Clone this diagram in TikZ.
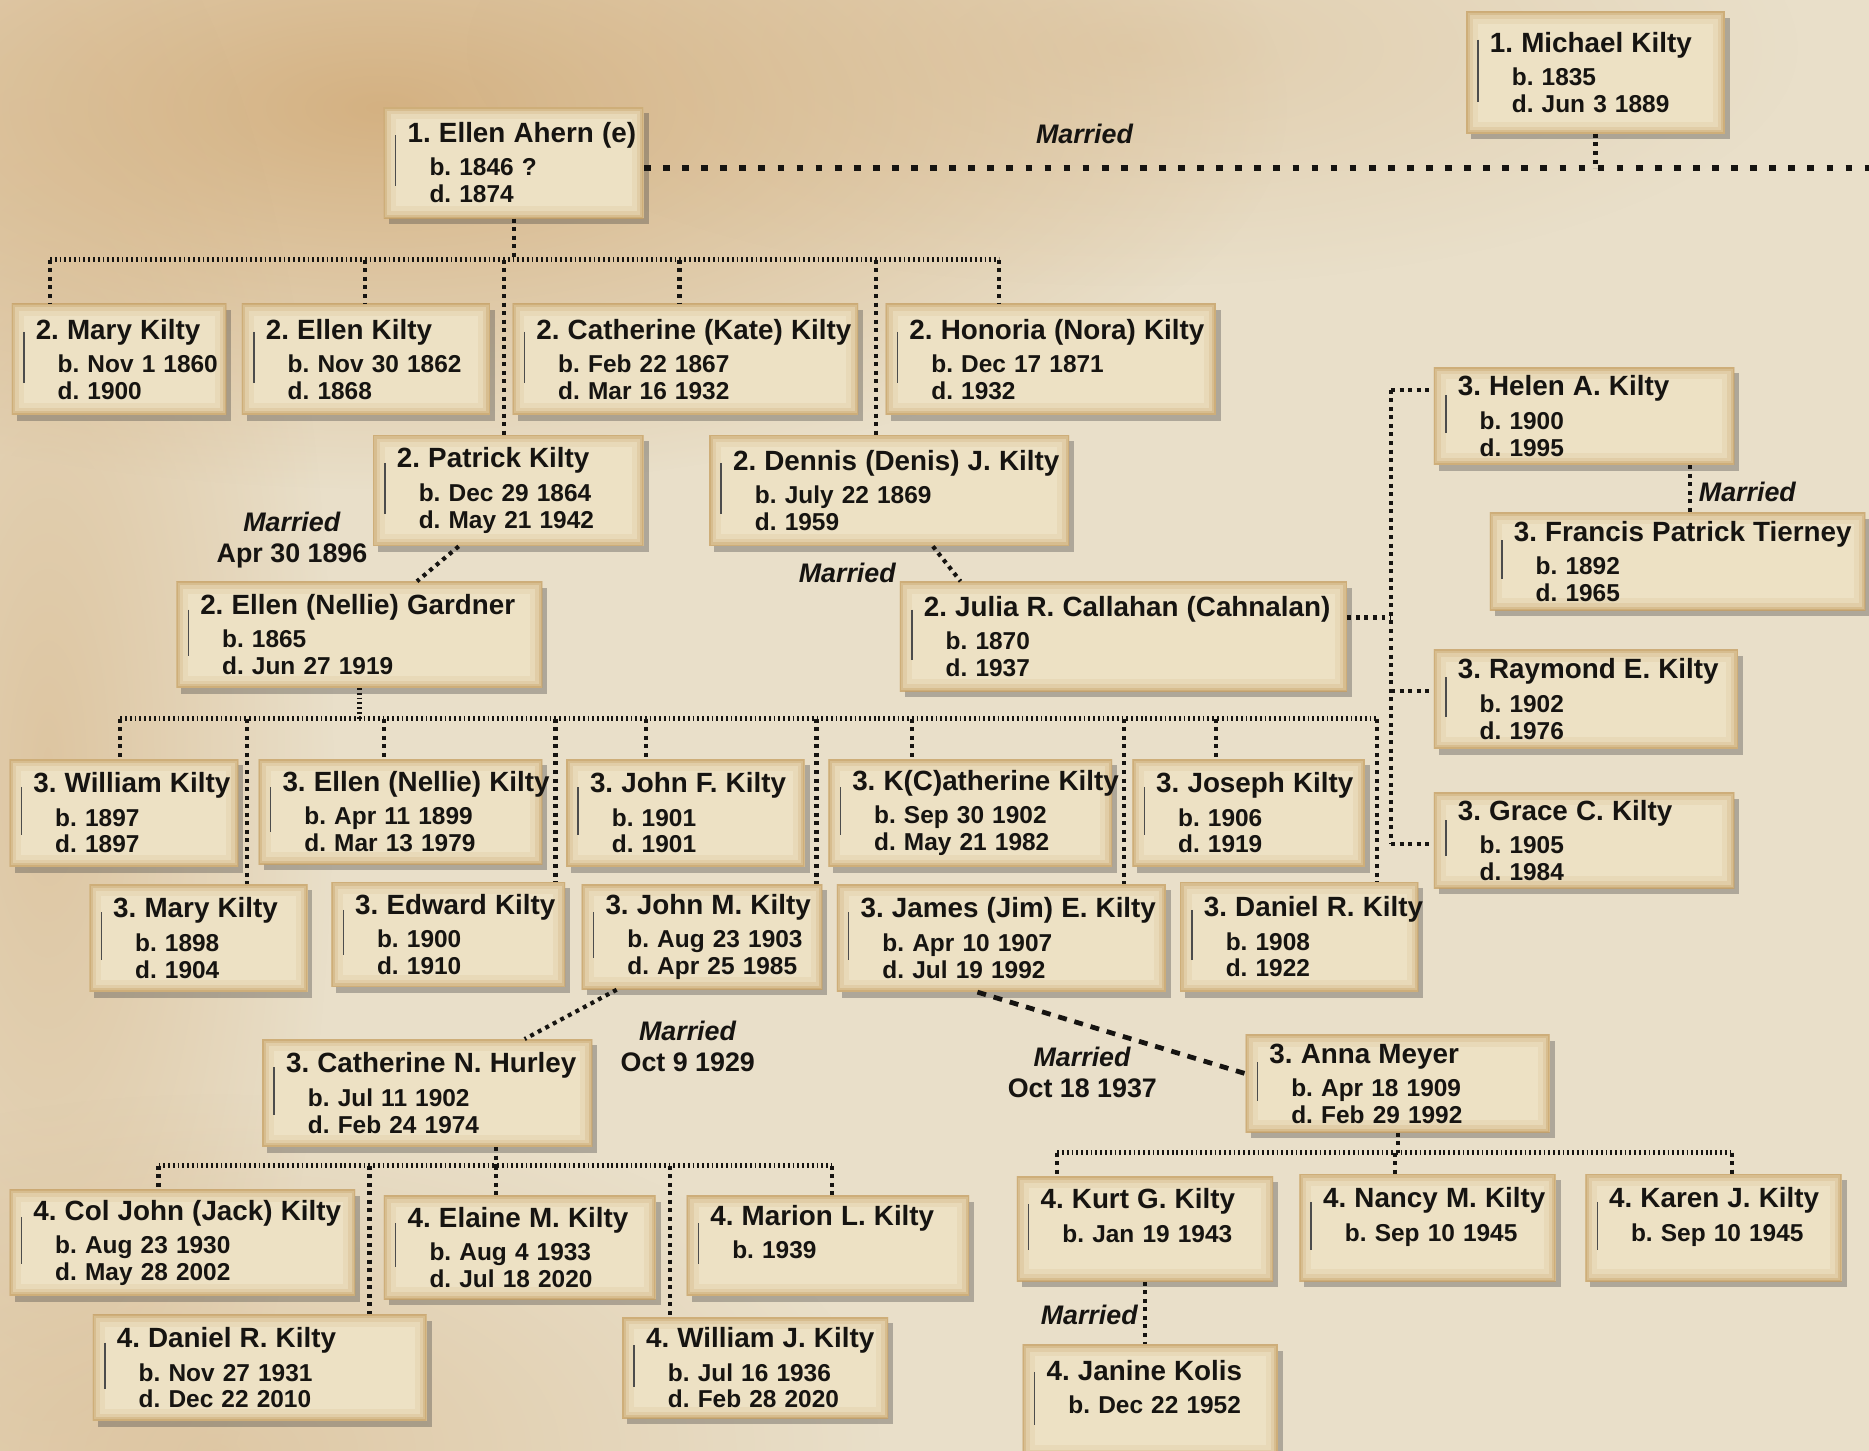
\documentclass[tikz,border=0pt]{standalone}
\usepackage{fontspec}
\setmainfont{Liberation Sans}
\usepackage{tikz}
\usetikzlibrary{shadows,fadings,calc}
\definecolor{paper}{RGB}{233,223,201}
\definecolor{paperdark}{RGB}{210,172,122}
\definecolor{cardin}{RGB}{237,225,196}
\definecolor{cardrim}{RGB}{198,160,100}
\definecolor{ink}{RGB}{22,20,17}
\tikzfading[name=blob, inner color=transparent!0, outer color=transparent!100]
\newcommand{\cardname}{\fontsize{14}{13.5}\selectfont}
\tikzstyle{card} = [fill=cardin, align=left, text=ink,
  inner xsep=0pt, inner ysep=0pt, font=\fontsize{12.3}{13.5}\selectfont\bfseries,
  drop shadow={shadow xshift=2.5pt, shadow yshift=-3pt, opacity=0.35, fill=black!75},
  path picture={
    \draw[cardrim, line width=12pt, opacity=0.12] (path picture bounding box.south west)
      rectangle (path picture bounding box.north east);
    \draw[cardrim, line width=7pt, opacity=0.2] (path picture bounding box.south west)
      rectangle (path picture bounding box.north east);
    \draw[cardrim, line width=3.5pt, opacity=0.35] (path picture bounding box.south west)
      rectangle (path picture bounding box.north east);
    \draw[cardrim, line width=1.4pt, opacity=0.5] (path picture bounding box.south west)
      rectangle (path picture bounding box.north east);
    \draw[line width=0.7pt, black!70]
      ([shift={(6pt,-14pt)}]path picture bounding box.north west) --
      ([shift={(6pt,16pt)}]path picture bounding box.south west);}]
\tikzstyle{wed} = [align=center, text=ink, inner sep=0pt,
  font=\fontsize{13.5}{15.6}\selectfont\bfseries]
% one card: name, x1, y1, x2, y2, person, born, died
\newcommand{\famcard}[8]{%
  \pgfmathsetmacro\cardw{(#4-#2)*0.6}%
  \pgfmathsetmacro\cardh{(#5-#3)*0.6}%
  \pgfmathsetmacro\cardt{(#4-#2)*0.6-24}%
  \node[card, minimum width=\cardw pt, minimum height=\cardh pt, text width=\cardt pt]
    (#1) at ({(#2+#4)/2},{(#3+#5)/2})
    {\mbox{\cardname #6}\\[3.3pt]\mbox{\hspace*{11pt}#7}\\\mbox{\hspace*{11pt}#8}};}

\begin{document}
\frenchspacing
\begin{tikzpicture}[x=0.6pt, y=-0.6pt,
	famline/.style={draw=ink, line width=2.4pt, dash pattern=on 0.9pt off 1.5pt},
	drop/.style={draw=ink, line width=2.1pt, dash pattern=on 2pt off 2.3pt},
	marline/.style={draw=ink, line width=2.6pt, dash pattern=on 3.4pt off 6.2pt},
	longdash/.style={draw=ink, line width=2.4pt, dash pattern=on 4.5pt off 4pt}]
    \useasboundingbox (0,0) rectangle (1568,1217);
    %% Paper
    \fill[paper] (0,0) rectangle (1568,1217);
    \fill[paperdark, opacity=0.9, path fading=blob] (320,90) ellipse (760 and 320);
    \fill[paperdark, opacity=0.5, path fading=blob] (40,640) ellipse (240 and 760);
    \fill[paperdark, opacity=0.45, path fading=blob] (180,1217) ellipse (560 and 300);
    \fill[paperdark, opacity=0.35, path fading=blob] (950,40) ellipse (560 and 200);

    %% Generation 1
    \famcard{ea}{322}{90}{540}{183}{1. Ellen Ahern (e)}{b. 1846 ?}{d. 1874}
    \famcard{mk}{1230}{10}{1447}{112}{1. Michael Kilty}{b. 1835}{d. Jun 3 1889}
    %% Generation 2
    \famcard{mary2}{10}{255}{190}{348}{2. Mary Kilty}{b. Nov 1 1860}{d. 1900}
    \famcard{ellen2}{203}{255}{411}{348}{2. Ellen Kilty}{b. Nov 30 1862}{d. 1868}
    \famcard{kate}{430}{255}{720}{348}{2. Catherine (Kate) Kilty}{b. Feb 22 1867}{d. Mar 16 1932}
    \famcard{nora}{743}{255}{1020}{348}{2. Honoria (Nora) Kilty}{b. Dec 17 1871}{d. 1932}
    \famcard{patrick}{313}{365}{540}{458}{2. Patrick Kilty}{b. Dec 29 1864}{d. May 21 1942}
    \famcard{dennis}{595}{365}{897}{458}{2. Dennis (Denis) J. Kilty}{b. July 22 1869}{d. 1959}
    \famcard{gardner}{148}{488}{455}{577}{2. Ellen (Nellie) Gardner}{b. 1865}{d. Jun 27 1919}
    \famcard{julia}{755}{488}{1130}{580}{2. Julia R. Callahan (Cahnalan)}{b. 1870}{d. 1937}
    %% Generation 3
    \famcard{helen}{1203}{308}{1455}{390}{3. Helen A. Kilty}{b. 1900}{d. 1995}
    \famcard{tierney}{1250}{430}{1565}{512}{3. Francis Patrick Tierney}{b. 1892}{d. 1965}
    \famcard{raymond}{1203}{545}{1458}{628}{3. Raymond E. Kilty}{b. 1902}{d. 1976}
    \famcard{grace}{1203}{665}{1455}{745}{3. Grace C. Kilty}{b. 1905}{d. 1984}
    \famcard{william}{8}{637}{200}{727}{3. William Kilty}{b. 1897}{d. 1897}
    \famcard{nellie}{217}{637}{455}{725}{3. Ellen (Nellie) Kilty}{b. Apr 11 1899}{d. Mar 13 1979}
    \famcard{johnf}{475}{637}{675}{727}{3. John F. Kilty}{b. 1901}{d. 1901}
    \famcard{kath}{695}{637}{933}{727}{3. K(C)atherine Kilty}{b. Sep 30 1902}{d. May 21 1982}
    \famcard{joseph}{950}{637}{1145}{727}{3. Joseph Kilty}{b. 1906}{d. 1919}
    \famcard{mary3}{75}{742}{258}{832}{3. Mary Kilty}{b. 1898}{d. 1904}
    \famcard{edward}{278}{740}{474}{828}{3. Edward Kilty}{b. 1900}{d. 1910}
    \famcard{johnm}{488}{742}{690}{830}{3. John M. Kilty}{b. Aug 23 1903}{d. Apr 25 1985}
    \famcard{james}{702}{742}{978}{832}{3. James (Jim) E. Kilty}{b. Apr 10 1907}{d. Jul 19 1992}
    \famcard{daniel3}{990}{740}{1190}{832}{3. Daniel R. Kilty}{b. 1908}{d. 1922}
    \famcard{hurley}{220}{872}{497}{962}{3. Catherine N. Hurley}{b. Jul 11 1902}{d. Feb 24 1974}
    \famcard{meyer}{1045}{868}{1300}{950}{3. Anna Meyer}{b. Apr 18 1909}{d. Feb 29 1992}
    %% Generation 4
    \famcard{jack}{8}{998}{298}{1087}{4. Col John (Jack) Kilty}{b. Aug 23 1930}{d. May 28 2002}
    \famcard{elaine}{322}{1003}{550}{1090}{4. Elaine M. Kilty}{b. Aug 4 1933}{d. Jul 18 2020}
    \famcard{marion}{576}{1003}{813}{1087}{4. Marion L. Kilty}{b. 1939}{}
    \famcard{daniel4}{78}{1103}{358}{1192}{4. Daniel R. Kilty}{b. Nov 27 1931}{d. Dec 22 2010}
    \famcard{williamj}{522}{1105}{745}{1190}{4. William J. Kilty}{b. Jul 16 1936}{d. Feb 28 2020}
    \famcard{kurt}{853}{987}{1068}{1075}{4. Kurt G. Kilty}{b. Jan 19 1943}{}
    \famcard{nancy}{1090}{985}{1305}{1075}{4. Nancy M. Kilty}{b. Sep 10 1945}{}
    \famcard{karen}{1330}{985}{1545}{1075}{4. Karen J. Kilty}{b. Sep 10 1945}{}
    \famcard{janine}{858}{1128}{1072}{1222}{4. Janine Kolis}{b. Dec 22 1952}{}

    %% Junctions
    \coordinate (mfree) at (1568,141);
    \coordinate (a1) at (42,218);   \coordinate (a2) at (306,218);  \coordinate (a3) at (423,218);
    \coordinate (a4) at (570,218);  \coordinate (a5) at (735,218);  \coordinate (a6) at (838,218);
    \coordinate (b1) at (101,603);  \coordinate (b2) at (207,603);  \coordinate (b3) at (322,603);
    \coordinate (b4) at (466,603);  \coordinate (b5) at (542,603);  \coordinate (b6) at (685,603);
    \coordinate (b7) at (765,603);  \coordinate (b8) at (943,603);  \coordinate (b9) at (1020,603);
    \coordinate (b10) at (1155,603);
    \coordinate (c1) at (133,978);  \coordinate (c2) at (310,978);  \coordinate (c3) at (416,978);
    \coordinate (c4) at (562,978);  \coordinate (c5) at (698,978);
    \coordinate (d1) at (887,967);  \coordinate (d2) at (1170,967); \coordinate (d3) at (1453,967);
    \coordinate (j0) at (1167,518); \coordinate (j1) at (1167,327); \coordinate (j2) at (1167,580);
    \coordinate (j3) at (1167,708); \coordinate (hm) at (1418,410);

    %% Marriages
    \path [marline] (mfree -| ea.east) -- (mfree);
    \path [drop] (mk.south) -- (mk.south |- mfree);
    \path [drop] ([xshift=-25pt]patrick.south) -- ([xshift=29pt]gardner.north);
    \path [drop] ([xshift=22pt]dennis.south) -- ([xshift=-82pt]julia.north);
    \path [drop] (hm |- helen.south) -- (hm |- tierney.north);
    \path [drop] ([xshift=-43pt]johnm.south) -- ([xshift=49pt]hurley.north);
    \path [longdash] ([xshift=-12pt]james.south) -- ([yshift=5pt]meyer.west);
    \path [drop] (kurt.south) -- (kurt.south |- janine.north);
    \node [wed] (w1) at (910,112) {\textit{Married}};
    \node [wed] (w2) at (245,453) {\textit{Married}\\Apr 30 1896};
    \node [wed] (w3) at (711,481) {\textit{Married}};
    \node [wed, anchor=west] (w4) at (1425,413) {\textit{Married}};
    \node [wed] (w5) at (577,878) {\textit{Married}\\Oct 9 1929};
    \node [wed] (w6) at (908,900) {\textit{Married}\\Oct 18 1937};
    \node [wed] (w7) at (914,1103) {\textit{Married}};

    %% Children of Ellen Ahern
    \path [drop] (ea.south) -- (ea.south |- a1);
    \path [famline] (a1) -- (a6);
    \path [drop] (a1) -- (a1 |- mary2.north);
    \path [drop] (a2) -- (a2 |- ellen2.north);
    \path [drop] (a3) -- (a3 |- patrick.north);
    \path [drop] (a4) -- (a4 |- kate.north);
    \path [drop] (a5) -- (a5 |- dennis.north);
    \path [drop] (a6) -- (a6 |- nora.north);
    %% Children of Ellen Gardner
    \path [famline] (gardner.south) -- (gardner.south |- b1);
    \path [famline] (b1) -- (b10);
    \path [drop] (b1) -- (b1 |- william.north);
    \path [drop] (b2) -- (b2 |- mary3.north);
    \path [drop] (b3) -- (b3 |- nellie.north);
    \path [drop] (b4) -- (b4 |- edward.north);
    \path [drop] (b5) -- (b5 |- johnf.north);
    \path [drop] (b6) -- (b6 |- johnm.north);
    \path [drop] (b7) -- (b7 |- kath.north);
    \path [drop] (b8) -- (b8 |- james.north);
    \path [drop] (b9) -- (b9 |- joseph.north);
    \path [drop] (b10) -- (b10 |- daniel3.north);
    %% Children of Julia Callahan
    \path [drop] (j0 -| julia.east) -- (j0);
    \path [drop] (j1) -- (j3);
    \path [drop] (j1) -- (j1 -| helen.west);
    \path [drop] (j2) -- (j2 -| raymond.west);
    \path [drop] (j3) -- (j3 -| grace.west);
    %% Children of Catherine Hurley
    \path [drop] (c3 |- hurley.south) -- (c3);
    \path [famline] (c1) -- (c5);
    \path [drop] (c1) -- (c1 |- jack.north);
    \path [drop] (c2) -- (c2 |- daniel4.north);
    \path [drop] (c3) -- (c3 |- elaine.north);
    \path [drop] (c4) -- (c4 |- williamj.north);
    \path [drop] (c5) -- (c5 |- marion.north);
    %% Children of Anna Meyer
    \path [drop] (meyer.south) -- (meyer.south |- d2);
    \path [famline] (d1) -- (d3);
    \path [drop] (d1) -- (d1 |- kurt.north);
    \path [drop] (d2) -- (d2 |- nancy.north);
    \path [drop] (d3) -- (d3 |- karen.north);
\end{tikzpicture}
\end{document}
